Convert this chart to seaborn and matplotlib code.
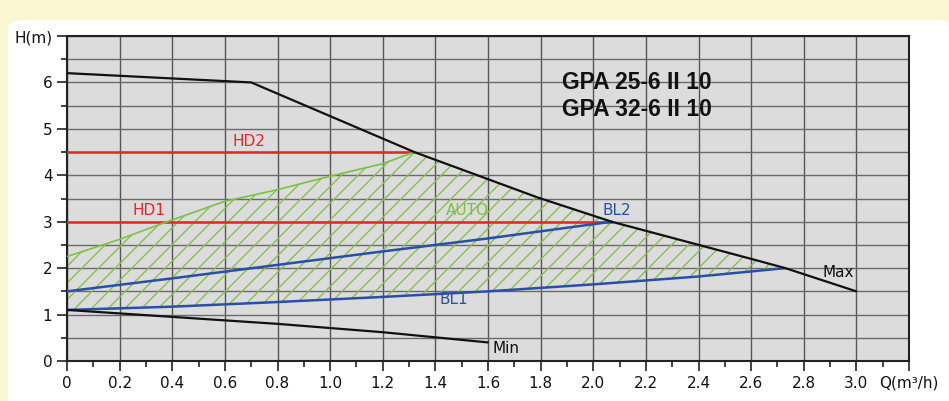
import numpy as np
import pandas as pd
import seaborn as sns
import matplotlib.pyplot as plt
from matplotlib.patches import FancyBboxPatch

# curve data (Q in m3/h, H in m)
max_q = [0.0, 0.7, 1.32, 1.79, 2.07, 2.6, 2.73, 3.0]
max_h = [6.2, 6.0, 4.5, 3.52, 3.0, 2.2, 2.0, 1.5]

min_q = [0.0, 0.4, 0.8, 1.2, 1.6]
min_h = [1.1, 0.95, 0.8, 0.62, 0.4]

auto_q = [0.0, 0.2, 0.38, 0.6, 0.8, 1.0, 1.2, 1.32]
auto_h = [2.25, 2.62, 3.0, 3.44, 3.69, 3.98, 4.25, 4.5]

bl1_q = [0.0, 0.4, 0.8, 1.2, 1.6, 2.0, 2.4, 2.73]
bl1_h = [1.1, 1.17, 1.27, 1.38, 1.5, 1.65, 1.82, 2.0]

bl2_q = [0.0, 0.4, 0.8, 1.2, 1.6, 2.07]
bl2_h = [1.5, 1.78, 2.07, 2.36, 2.64, 3.0]

hd1_q = [0.0, 2.07]
hd1_h = [3.0, 3.0]
hd2_q = [0.0, 1.32]
hd2_h = [4.5, 4.5]

x_ticks = [0, 0.2, 0.4, 0.6, 0.8, 1.0, 1.2, 1.4, 1.6, 1.8, 2.0, 2.2, 2.4, 2.6, 2.8, 3.0, 3.2]
x_labels = ["0", "0.2", "0.4", "0.6", "0.8", "1.0", "1.2", "1.4", "1.6", "1.8",
            "2.0", "2.2", "2.4", "2.6", "2.8", "3.0", "Q(m³/h)"]
y_ticks = [0, 1, 2, 3, 4, 5, 6, 7]
y_labels = ["0", "1", "2", "3", "4", "5", "6", "H(m)"]

sns.set_style("white")
plt.rcParams['font.family'] = ['DejaVu Sans']
plt.rcParams['hatch.linewidth'] = 1.0

fig = plt.figure(figsize=(9.49, 4.01), dpi=100)
fig.patch.set_facecolor("#faf6d2")
# white panel behind the chart
panel = FancyBboxPatch((8 / 949, -0.05), 1.0, (401 - 20) / 401 + 0.05, boxstyle="round,pad=0,rounding_size=0.02",
                       transform=fig.transFigure, facecolor="white", edgecolor="none", zorder=-10)
fig.patches.append(panel)

ax = fig.add_axes([67 / 949, 40 / 401, (909 - 67) / 949, (361 - 36) / 401])
ax.set_zorder(1)
ax.set_facecolor("#dcdcdc")

# hatched AUTO region: green upper curve, max curve, back along BL1
poly_q = auto_q + max_q[3:7] + bl1_q[::-1]
poly_h = auto_h + max_h[3:7] + bl1_h[::-1]
ax.fill(poly_q, poly_h, facecolor="none", edgecolor="#86c24a", hatch="//", linewidth=0, zorder=2)

def draw(q, h, color, lw=1.8):
    sns.lineplot(x=q, y=h, ax=ax, color=color, linewidth=lw, sort=False, estimator=None, zorder=4)

draw(hd1_q, hd1_h, "#e8262a")
draw(hd2_q, hd2_h, "#e8262a")
draw(auto_q, auto_h, "#7cc242", lw=1.2)
draw(bl2_q, bl2_h, "#2a4fa8")
draw(bl1_q, bl1_h, "#2a4fa8")
draw(max_q, max_h, "#111111", lw=1.6)
draw(min_q, min_h, "#111111", lw=1.6)

lab = dict(fontsize=11, zorder=5)
ax.text(0.69, 4.57, "HD2", color="#e8262a", ha="center", va="bottom", **lab)
ax.text(0.31, 3.07, "HD1", color="#e8262a", ha="center", va="bottom", **lab)
ax.text(1.52, 3.07, "AUTO", color="#7cc242", ha="center", va="bottom", **lab)
ax.text(2.09, 3.07, "BL2", color="#2a4fa8", ha="center", va="bottom", **lab)
ax.text(1.47, 1.32, "BL1", color="#2a4fa8", ha="center", va="center", **lab)
ax.text(2.93, 1.9, "Max", color="#111111", ha="center", va="center", **lab)
ax.text(1.67, 0.27, "Min", color="#111111", ha="center", va="center", **lab)

ax.text(1.88, 6.0, "GPA 25-6 II 10", fontsize=16.5, fontweight="bold", family="Liberation Sans",
        color="#111111", ha="left", va="center", zorder=5)
ax.text(1.88, 5.42, "GPA 32-6 II 10", fontsize=16.5, fontweight="bold", family="Liberation Sans",
        color="#111111", ha="left", va="center", zorder=5)

ax.set_xlim(0, 3.2)
ax.set_ylim(0, 7)
ax.set_xticks(x_ticks)
ax.set_xticklabels(x_labels)
ax.set_yticks(y_ticks)
ax.set_yticklabels(y_labels)
ax.set_xticks(np.arange(0.1, 3.2, 0.2), minor=True)
ax.set_yticks(np.arange(0.5, 7, 1.0), minor=True)

ax.grid(True, which="major", axis="x", color="#555555", linewidth=1.0)
ax.grid(True, which="both", axis="y", color="#6a6a6a", linewidth=1.0)
ax.set_axisbelow(True)

ax.tick_params(axis="both", which="major", direction="out", length=7, width=1.2, color="#222222",
               labelsize=11, labelcolor="#111111", bottom=True, left=True)
ax.tick_params(axis="both", which="minor", direction="out", length=4, width=1.2, color="#222222",
               bottom=True, left=True)
for s in ax.spines.values():
    s.set_color("#222222")
    s.set_linewidth(1.5)

ax.set_xlabel("")
ax.set_ylabel("")

fig.savefig("out.png", dpi=100, facecolor=fig.get_facecolor())
